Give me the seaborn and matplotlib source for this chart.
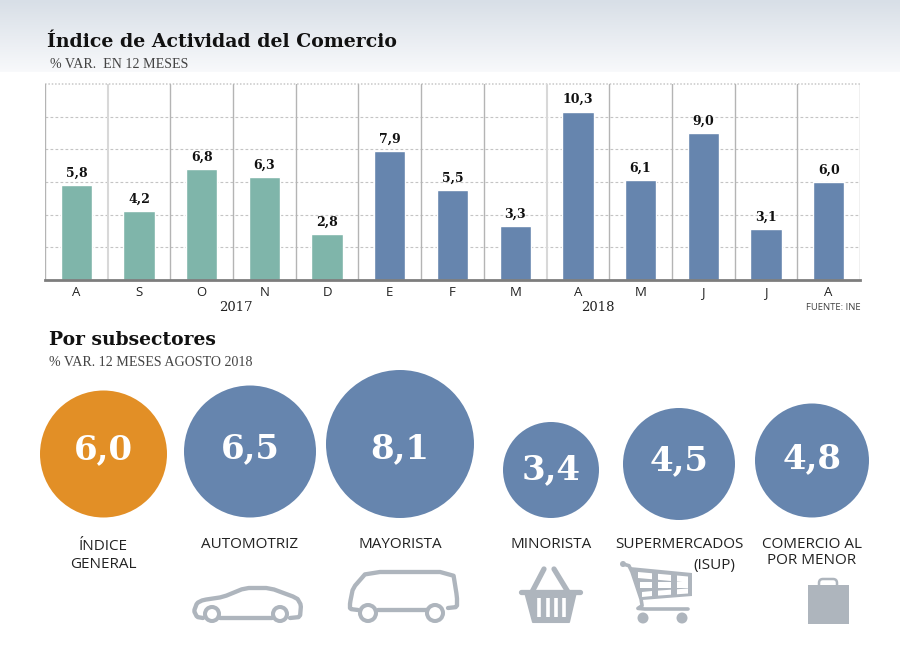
import numpy as np
import pandas as pd
import matplotlib
matplotlib.use("Agg")
import matplotlib.pyplot as plt
from matplotlib.colors import LinearSegmentedColormap
from matplotlib.patches import Circle, FancyBboxPatch, Polygon, Rectangle
import seaborn as sns

meses = ["A", "S", "O", "N", "D", "E", "F", "M", "A", "M", "J", "J", "A"]
valores = [5.8, 4.2, 6.8, 6.3, 2.8, 7.9, 5.5, 3.3, 10.3, 6.1, 9.0, 3.1, 6.0]
anios = ["2017"] * 5 + ["2018"] * 8

valores_sub = ["6,0", "6,5", "8,1", "3,4", "4,5", "4,8"]
etiquetas = ["ÍNDICE", "GENERAL", "AUTOMOTRIZ", "MAYORISTA", "MINORISTA",
             "SUPERMERCADOS", "(ISUP)", "COMERCIO AL", "POR MENOR"]

# layout in pixels
centros_x = [103.5, 250, 400, 551, 679, 812]
centros_y = [454, 451.5, 444, 470, 464, 460.5]
radios = [63.5, 66, 74, 48, 56, 57]
texto_y = [450, 449, 449, 470, 461, 459]
etiq_x = [103.5, 103.5, 250, 400, 551, 679, 714, 812, 812]
etiq_y = [546, 565, 545, 545, 545, 545, 565, 545, 561]
colores_sub = ["#e28f26", "#6685ae", "#6685ae", "#6685ae", "#6685ae", "#6685ae"]

VERDE = "#7fb5aa"
AZUL = "#6685ae"
ICONO = "#aeb5bd"
SERIF = "DejaVu Serif"
SANS = "Open Sans"

sns.set_theme(style="white")
plt.rcParams["font.family"] = [SANS, "DejaVu Sans"]

fig = plt.figure(figsize=(9, 6.49), dpi=100)
W, H = 900, 649

# header gradient
bg = fig.add_axes([0, 0, 1, 1], zorder=0)
grad = np.linspace(0, 1, 72).reshape(-1, 1)
bg.imshow(grad, cmap=LinearSegmentedColormap.from_list("g", ["#d8dfe7", "#f8f9fb"]),
          extent=[0, W, 72, 0], aspect="auto")
bg.set_xlim(0, W)
bg.set_ylim(H, 0)
bg.axis("off")

# bar chart
df = pd.DataFrame({"pos": range(len(valores)), "valor": valores, "anio": anios})
ax = fig.add_axes([45 / W, 1 - 280 / H, 815 / W, 196 / H], zorder=1)
ax.patch.set_alpha(0)
sns.barplot(data=df, x="pos", y="valor", hue="anio", palette={"2017": VERDE, "2018": AZUL},
            dodge=False, width=0.5, saturation=1, legend=False, ax=ax, zorder=3)
ax.set_xlim(-0.5, 12.5)
ax.set_ylim(0, 12)
ax.set_xlabel("")
ax.set_ylabel("")
ax.set_yticks(range(0, 13, 2))
ax.set_yticklabels([])
ax.set_xticks(range(13))
ax.set_xticklabels(meses, fontsize=9.5, color="#222222")
ax.tick_params(axis="both", length=0)
ax.tick_params(axis="x", pad=4.5)
for y in range(2, 12, 2):
    ax.axhline(y, color="#c4c4c4", lw=0.8, ls=(0, (2.5, 2)), zorder=1)
ax.axhline(12, color="#c8c8c8", lw=1.1, ls=(0, (1, 1.2)), zorder=1, clip_on=False)
for i in range(14):
    grueso = i in (1, 8)
    ax.axvline(i - 0.5, color="#d8d8d8" if grueso else "#b4b4b4", lw=1.5 if grueso else 1.0, zorder=1)
for s in ["top", "left", "right"]:
    ax.spines[s].set_visible(False)
ax.spines["bottom"].set_color("#7d7d7d")
ax.spines["bottom"].set_linewidth(2)
ax.spines["bottom"].set_zorder(5)
for i, v in enumerate(valores):
    ax.annotate(f"{v:.1f}".replace(".", ","), (i, v), xytext=(0, 4), textcoords="offset points",
                ha="center", va="bottom", fontsize=9, fontweight="bold", family=SERIF, color="#111111")

# overlay for everything else, pixel coordinates with y going down
ov = fig.add_axes([0, 0, 1, 1], zorder=2)
ov.patch.set_alpha(0)

# circles
dfc = pd.DataFrame({"x": centros_x, "y": centros_y})
sns.scatterplot(data=dfc, x="x", y="y", s=[(2 * r * 0.72) ** 2 for r in radios], c=colores_sub,
                linewidth=0, legend=False, ax=ov, zorder=2)
ov.set_xlim(0, W)
ov.set_ylim(H, 0)
ov.axis("off")

ov.text(47, 42, "Índice de Actividad del Comercio", fontsize=13.6, fontweight="bold", family=SERIF,
        va="center", color="#111111")
ov.text(50, 64, "% VAR.  EN 12 MESES", fontsize=10.1, family="Liberation Serif", va="center", color="#444444")
ov.text(236, 307.5, "2017", fontsize=9.5, family=SERIF, ha="center", va="center", color="#222222")
ov.text(598, 307.5, "2018", fontsize=9.5, family=SERIF, ha="center", va="center", color="#222222")
ov.text(861, 308, "FUENTE: INE", fontsize=6.8, ha="right", va="center", color="#444444")
ov.text(49, 340, "Por subsectores", fontsize=13.5, fontweight="bold", family=SERIF, va="center", color="#111111")
ov.text(49, 362, "% VAR. 12 MESES AGOSTO 2018", fontsize=10.1, family="Liberation Serif", va="center", color="#444444")

for x, y, t in zip(centros_x, texto_y, valores_sub):
    ov.text(x, y, t, fontsize=24.5, fontweight="bold", family=SERIF, color="white",
            ha="center", va="center", zorder=3)
for x, y, t in zip(etiq_x, etiq_y, etiquetas):
    ov.text(x, y, t, fontsize=11, ha="center", va="center", color="#222222", zorder=5)


def suave(pts, n=1):
    # corner cutting, keeps the icon outlines rounded
    p = np.array(pts, dtype=float)
    for _ in range(n):
        q = [p[0]]
        for a, b in zip(p[:-1], p[1:]):
            q += [0.85 * a + 0.15 * b, 0.15 * a + 0.85 * b]
        q.append(p[-1])
        p = np.array(q)
    return p


def linea(pts, lw=3.1, curva=True):
    p = suave(pts) if curva else np.array(pts)
    ov.plot(p[:, 0], p[:, 1], color=ICONO, lw=lw, solid_capstyle="round", solid_joinstyle="round", zorder=2)


def rueda(x, y, r, lw=2.9):
    ov.add_patch(Circle((x, y), r, fc="white", ec=ICONO, lw=lw, zorder=3))


# car
linea([(203, 618), (197, 617), (194, 611), (197, 603), (203, 600), (223, 597), (245, 588), (270, 588),
       (297, 598), (301, 605), (300, 617), (290, 618)])
linea([(220, 618), (272, 618)], curva=False)
rueda(212, 614, 7)
rueda(280, 614, 7)
# van
linea([(358, 610), (350, 609), (350, 603), (353, 588), (367, 572), (453, 572), (457, 597), (457, 607), (448, 608)])
linea([(378, 610), (427, 610)], curva=False)
rueda(368, 613, 8)
rueda(435, 613, 8)
# basket
ov.plot([544, 532], [569, 592], color=ICONO, lw=3.8, solid_capstyle="round", zorder=2)
ov.plot([554, 568], [569, 592], color=ICONO, lw=3.8, solid_capstyle="round", zorder=2)
ov.plot([521, 580], [591.5, 591.5], color=ICONO, lw=3.8, solid_capstyle="round", zorder=2)
ov.add_patch(Polygon([(525, 592), (576, 592), (569, 622), (533, 622)], fc=ICONO, ec=ICONO, lw=1.5,
                     joinstyle="round", zorder=2))
for x in [539, 548, 556, 564]:
    ov.plot([x, x], [598, 617], color="white", lw=2.6, solid_capstyle="butt", zorder=3)
# cart
ov.add_patch(Circle((623, 564), 3, fc=ICONO, ec="none", zorder=2))
linea([(623, 564), (630, 566), (643, 605), (637, 609), (688, 609)], lw=2.6)
ov.add_patch(Polygon([(630, 567), (692, 573), (692, 596), (642, 600)], fc=ICONO, ec="none", zorder=2))
for x0, x1 in [(638, 652), (658, 671), (677, 688)]:
    for y0, y1 in [(572, 578), (582, 588), (592, 597)]:
        k0 = 0.09 if y0 == 572 else (0.0 if y0 == 582 else -0.07)
        inset = 2 if y0 == 582 and x0 == 638 else (4 if y0 == 592 and x0 == 638 else 0)
        ov.add_patch(Polygon([(x0 + inset, y0 + k0 * (x0 - 638)), (x1, y0 + k0 * (x1 - 638)),
                              (x1, y1 + k0 * (x1 - 638)), (x0 + inset, y1 + k0 * (x0 - 638))],
                             fc="white", ec="none", zorder=3))
ov.add_patch(Circle((643, 618), 5.5, fc=ICONO, ec="none", zorder=2))
ov.add_patch(Circle((682, 618), 5.5, fc=ICONO, ec="none", zorder=2))
# bag
ov.add_patch(FancyBboxPatch((819, 579), 18, 12, boxstyle="round,pad=0,rounding_size=4",
                            fc="white", ec=ICONO, lw=1.8, zorder=1))
ov.add_patch(Rectangle((808, 585), 41, 38.5, fc=ICONO, ec="none", zorder=2))

fig.savefig("out.png", dpi=100)
